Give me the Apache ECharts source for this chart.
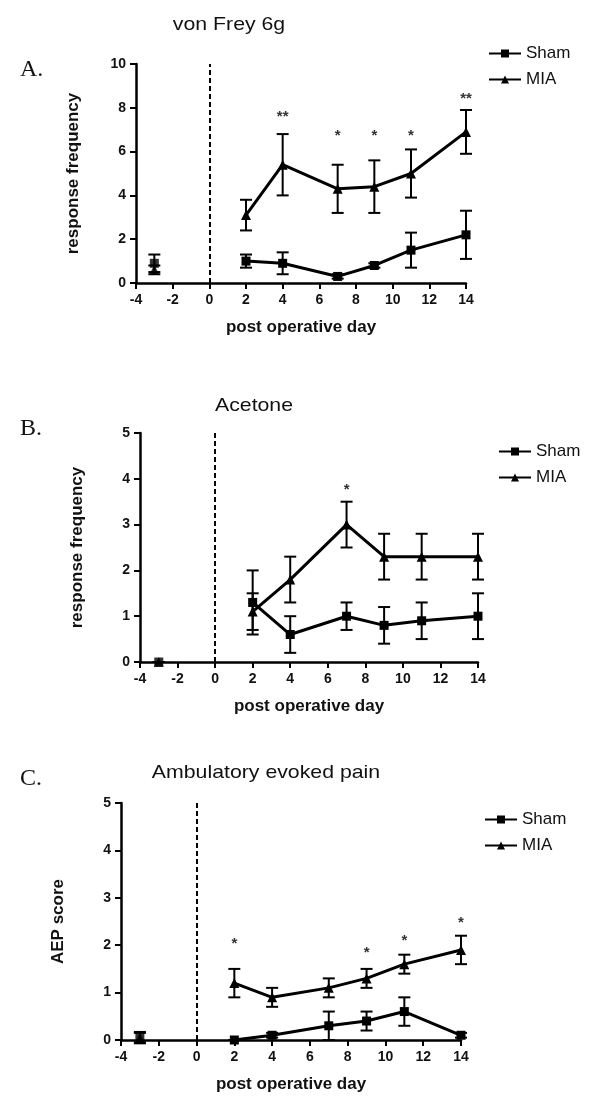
<!DOCTYPE html>
<html>
<head>
<meta charset="utf-8">
<script src="https://cdn.jsdelivr.net/npm/echarts@6/dist/echarts.min.js"></script>
<style>
	html, body { margin: 0; padding: 0; background: #fff; }
	#main { width: 600px; height: 1107px; }
</style>
</head>
<body>
<div id="main"></div>
<script>
// post operative days (baseline is day -3, drawn unconnected)
var days = [2, 4, 7, 9, 11, 14];
var baseDay = -3;

// A. von Frey 6g
var vfShamBase = [0.9, 0.4];
var vfMiaBase = [0.6, 0.2];
var vfSham = [1.0, 0.9, 0.3, 0.8, 1.5, 2.2];
var vfShamErr = [0.3, 0.5, 0.1, 0.1, 0.8, 1.1];
var vfMia = [3.1, 5.4, 4.3, 4.4, 5.0, 6.9];
var vfMiaErr = [0.7, 1.4, 1.1, 1.2, 1.1, 1.0];
var vfStars = ['', '**', '*', '*', '*', '**'];
var vfStarY = [0, 7.6, 6.7, 6.7, 6.7, 8.4];

// B. Acetone
var acShamBase = [0.0, 0.0];
var acMiaBase = [0.0, 0.0];
var acSham = [1.3, 0.6, 1.0, 0.8, 0.9, 1.0];
var acShamErr = [0.7, 0.4, 0.3, 0.4, 0.4, 0.5];
var acMia = [1.1, 1.8, 3.0, 2.3, 2.3, 2.3];
var acMiaErr = [0.4, 0.5, 0.5, 0.5, 0.5, 0.5];
var acStars = ['', '', '*', '', '', ''];
var acStarY = [0, 0, 3.75, 0, 0, 0];

// C. Ambulatory evoked pain
var aeShamBase = [0.05, 0.12];
var aeMiaBase = [0.05, 0.1];
var aeSham = [0.0, 0.1, 0.3, 0.4, 0.6, 0.1];
var aeShamErr = [0.0, 0.05, 0.3, 0.2, 0.3, 0.05];
var aeMia = [1.2, 0.9, 1.1, 1.3, 1.6, 1.9];
var aeMiaErr = [0.3, 0.2, 0.2, 0.2, 0.2, 0.3];
var aeStars = ['*', '', '', '*', '*', '*'];
var aeStarY = [2.03, 0, 0, 1.84, 2.1, 2.47];

var FONT = "'Liberation Sans', Arial, sans-serif";

var panels = [
	{ letter: 'A.', title: 'von Frey 6g', yName: 'response frequency', yMax: 10, yInt: 2,
		grid: { left: 136, right: 134, top: 64, height: 219 },
		titleX: 229, titleY: 25, letterY: 70, legendTop: 40, legendLeft: 483,
		sham: vfSham, shamErr: vfShamErr, mia: vfMia, miaErr: vfMiaErr,
		shamBase: vfShamBase, miaBase: vfMiaBase, stars: vfStars, starY: vfStarY },
	{ letter: 'B.', title: 'Acetone', yName: 'response frequency', yMax: 5, yInt: 1,
		grid: { left: 140, right: 122, top: 433, height: 229 },
		titleX: 254, titleY: 406, letterY: 429, legendTop: 438, legendLeft: 493,
		sham: acSham, shamErr: acShamErr, mia: acMia, miaErr: acMiaErr,
		shamBase: acShamBase, miaBase: acMiaBase, stars: acStars, starY: acStarY },
	{ letter: 'C.', title: 'Ambulatory evoked pain', yName: 'AEP score', yMax: 5, yInt: 1,
		grid: { left: 121, right: 139, top: 803, height: 237 },
		titleX: 266, titleY: 773, letterY: 779, legendTop: 806, legendLeft: 479,
		sham: aeSham, shamErr: aeShamErr, mia: aeMia, miaErr: aeMiaErr,
		shamBase: aeShamBase, miaBase: aeMiaBase, stars: aeStars, starY: aeStarY }
];

function errRender(params, api) {
	var x = api.value(0);
	var lo = api.coord([x, api.value(1)]);
	var hi = api.coord([x, api.value(2)]);
	var w = 6;
	var st = { stroke: '#000', lineWidth: 2 };
	return {
		type: 'group',
		children: [
			{ type: 'line', shape: { x1: lo[0], y1: lo[1], x2: hi[0], y2: hi[1] }, style: st },
			{ type: 'line', shape: { x1: hi[0] - w, y1: hi[1], x2: hi[0] + w, y2: hi[1] }, style: st },
			{ type: 'line', shape: { x1: lo[0] - w, y1: lo[1], x2: lo[0] + w, y2: lo[1] }, style: st }
		]
	};
}

var starText = {};

function starRender(params, api) {
	var p = api.coord([api.value(0), api.value(1)]);
	return {
		type: 'text',
		style: {
			text: starText[params.seriesIndex][params.dataIndex],
			x: p[0], y: p[1],
			textAlign: 'center', textVerticalAlign: 'middle',
			font: 'bold 15px ' + FONT, fill: '#333'
		}
	};
}

var grids = [], xAxes = [], yAxes = [], series = [], legends = [], graphics = [];

for (var i = 0; i < panels.length; i++) {
	var p = panels[i];
	grids.push(p.grid);
	xAxes.push({
		gridIndex: i, type: 'value', min: -4, max: 14, interval: 2,
		name: 'post operative day', nameLocation: 'middle', nameGap: 36,
		nameTextStyle: { fontFamily: FONT, fontWeight: 'bold', fontSize: 17, color: '#111' },
		axisLine: { lineStyle: { color: '#000', width: 2.5 } },
		axisTick: { length: 6, lineStyle: { color: '#000', width: 2 } },
		axisLabel: { fontFamily: FONT, fontWeight: 'bold', fontSize: 14, color: '#111', margin: 10 },
		splitLine: { show: false }
	});
	yAxes.push({
		gridIndex: i, type: 'value', min: 0, max: p.yMax, interval: p.yInt,
		name: p.yName, nameLocation: 'middle', nameGap: 54, nameRotate: 90,
		nameTextStyle: { fontFamily: FONT, fontWeight: 'bold', fontSize: 17, color: '#111' },
		axisLine: { onZero: false, lineStyle: { color: '#000', width: 2.5 } },
		axisTick: { length: 6, lineStyle: { color: '#000', width: 2 } },
		axisLabel: { fontFamily: FONT, fontWeight: 'bold', fontSize: 14, color: '#111', margin: 10 },
		splitLine: { show: false }
	});

	var shamLine = [], miaLine = [], errs = [], stars = [];
	for (var j = 0; j < days.length; j++) {
		shamLine.push([days[j], p.sham[j]]);
		miaLine.push([days[j], p.mia[j]]);
		errs.push([days[j], p.sham[j] - p.shamErr[j], p.sham[j] + p.shamErr[j]]);
		errs.push([days[j], p.mia[j] - p.miaErr[j], p.mia[j] + p.miaErr[j]]);
		if (p.stars[j] != '')
			stars.push([days[j], p.starY[j], p.stars[j]]);
	}
	errs.push([baseDay, p.shamBase[0] - p.shamBase[1], p.shamBase[0] + p.shamBase[1]]);
	errs.push([baseDay, p.miaBase[0] - p.miaBase[1], p.miaBase[0] + p.miaBase[1]]);

	series.push({
		name: 'Sham', type: 'line', xAxisIndex: i, yAxisIndex: i,
		data: shamLine, symbol: 'rect', symbolSize: 9,
		lineStyle: { color: '#000', width: 3 }, itemStyle: { color: '#000' },
		markLine: {
			silent: true, symbol: 'none', label: { show: false },
			lineStyle: { type: [5, 3], width: 2, color: '#000' },
			data: [{ xAxis: 0 }]
		}
	});
	series.push({
		name: 'MIA', type: 'line', xAxisIndex: i, yAxisIndex: i,
		data: miaLine, symbol: 'triangle', symbolSize: 10,
		lineStyle: { color: '#000', width: 3 }, itemStyle: { color: '#000' }
	});
	series.push({
		type: 'scatter', xAxisIndex: i, yAxisIndex: i, symbol: 'triangle', symbolSize: 10,
		itemStyle: { color: '#000' }, data: [[baseDay, p.miaBase[0]]]
	});
	series.push({
		type: 'scatter', xAxisIndex: i, yAxisIndex: i, symbol: 'rect', symbolSize: 9,
		itemStyle: { color: '#000' }, data: [[baseDay, p.shamBase[0]]]
	});
	series.push({
		type: 'custom', xAxisIndex: i, yAxisIndex: i, renderItem: errRender,
		encode: { x: 0, y: [1, 2] }, data: errs, clip: false
	});
	starText[series.length] = stars.map(function (s) { return s[2]; });
	series.push({
		type: 'custom', xAxisIndex: i, yAxisIndex: i, renderItem: starRender,
		encode: { x: 0, y: 1 }, data: stars.map(function (s) { return [s[0], s[1]]; }), clip: false
	});

	legends.push({
		data: ['Sham', 'MIA'], orient: 'vertical', left: p.legendLeft, top: p.legendTop,
		itemWidth: 32, itemHeight: 10, itemGap: 9, selectedMode: false,
		textStyle: { fontFamily: FONT, fontSize: 17, color: '#111' }
	});

	graphics.push({
		type: 'text', x: p.titleX, y: p.titleY, scaleX: 1.12,
		style: { text: p.title, font: '19px ' + FONT, fill: '#111', textAlign: 'center', textVerticalAlign: 'middle' }
	});
	graphics.push({
		type: 'text', x: 20, y: p.letterY,
		style: { text: p.letter, font: '24px "Liberation Serif", "Times New Roman", serif', fill: '#111', textVerticalAlign: 'middle' }
	});
}

var myChart = echarts.init(document.getElementById('main'));
myChart.setOption({
	backgroundColor: '#fff',
	animation: false,
	grid: grids,
	xAxis: xAxes,
	yAxis: yAxes,
	legend: legends,
	graphic: graphics,
	series: series
});
</script>
</body>
</html>
